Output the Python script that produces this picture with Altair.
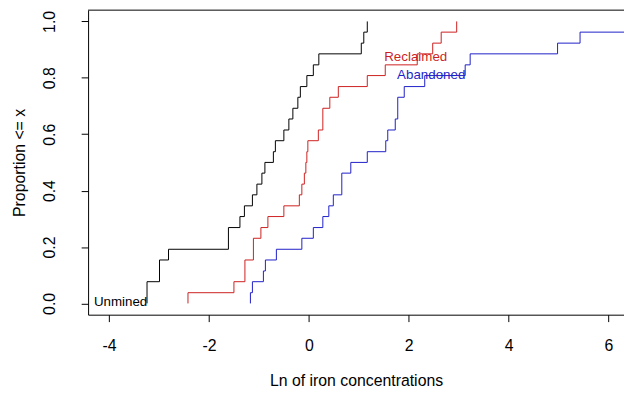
import altair as alt
import pandas as pd

# ECDF steps: ln(iron) value and cumulative proportion after the jump
unmined_x = [-3.24, -2.99, -2.81, -1.61, -1.38, -1.29, -1.13, -1.04, -0.94, -0.88, -0.71, -0.67,
             -0.50, -0.40, -0.32, -0.22, -0.17, -0.04, 0.09, 0.20, 1.05, 1.10, 1.17]
unmined_p = [0.077, 0.154, 0.192, 0.269, 0.308, 0.346, 0.385, 0.423, 0.462, 0.500, 0.538, 0.577,
             0.615, 0.654, 0.692, 0.731, 0.769, 0.808, 0.846, 0.885, 0.923, 0.962, 1.000]

reclaimed_x = [-2.42, -1.50, -1.28, -1.11, -0.96, -0.82, -0.50, -0.19, -0.14, -0.09, -0.06, -0.04,
               -0.02, 0.19, 0.28, 0.42, 0.59, 1.17, 1.53, 2.17, 2.48, 2.65, 2.96]
reclaimed_p = [0.038, 0.077, 0.154, 0.231, 0.269, 0.308, 0.346, 0.385, 0.423, 0.462, 0.500, 0.538,
               0.577, 0.615, 0.692, 0.731, 0.769, 0.808, 0.846, 0.885, 0.923, 0.962, 1.000]

abandoned_x = [-1.17, -1.13, -0.91, -0.87, -0.65, -0.14, 0.09, 0.28, 0.40, 0.49, 0.66, 0.84,
               1.17, 1.54, 1.58, 1.73, 1.78, 1.91, 2.32, 3.13, 3.23, 4.98, 5.43, 6.60]
abandoned_p = [0.038, 0.077, 0.115, 0.154, 0.192, 0.231, 0.269, 0.308, 0.346, 0.385, 0.462, 0.500,
               0.538, 0.577, 0.615, 0.654, 0.731, 0.769, 0.808, 0.846, 0.885, 0.923, 0.962, 1.000]

groups = ["Unmined", "Reclaimed", "Abandoned"]
colors = ["#000000", "#CD1F1F", "#1F1FC8"]

label_text = ["Unmined", "Reclaimed", "Abandoned"]
label_x = [-3.77, 2.14, 2.45]
label_y = [0.006, 0.872, 0.81]

x_ticks = [-4, -2, 0, 2, 4, 6]
y_ticks = [0.0, 0.2, 0.4, 0.6, 0.8, 1.0]

rows = []
for g, xs, ps in [("Unmined", unmined_x, unmined_p),
                  ("Reclaimed", reclaimed_x, reclaimed_p),
                  ("Abandoned", abandoned_x, abandoned_p)]:
    rows.append({"group": g, "x": xs[0], "p": 0.0, "i": 0})
    for k, (xv, pv) in enumerate(zip(xs, ps)):
        rows.append({"group": g, "x": xv, "p": pv, "i": k + 1})
df = pd.DataFrame(rows)

labels = pd.DataFrame({"group": groups, "text": label_text, "x": label_x, "p": label_y})

W, H = 542, 308
xscale = alt.Scale(domain=[-4.42, 6.31], nice=False, zero=False)
yscale = alt.Scale(domain=[-0.04, 1.04], nice=False, zero=False)
cscale = alt.Scale(domain=groups, range=colors)

lines = alt.Chart(df).mark_line(interpolate="step-after", strokeWidth=1, clip=True).encode(
    x=alt.X("x:Q", scale=xscale,
            axis=alt.Axis(values=x_ticks, labelExpr="'' + datum.value",
                          title="Ln of iron concentrations",
                          titleX=W / 2, titleY=67, titleAlign="center", titleBaseline="middle",
                          labelBaseline="middle", labelPadding=24)),
    y=alt.Y("p:Q", scale=yscale,
            axis=alt.Axis(values=y_ticks, format=".1f", title="Proportion <= x",
                          titleX=-69, titleY=H / 2, titleAngle=270, titleAlign="center",
                          titleBaseline="middle", labelAngle=270, labelAlign="center",
                          labelBaseline="middle", labelPadding=32)),
    color=alt.Color("group:N", scale=cscale, legend=None),
    detail="group:N",
    order="i:Q",
)

texts = alt.Chart(labels).mark_text(fontSize=13.5, align="center", baseline="middle").encode(
    x=alt.X("x:Q", scale=xscale),
    y=alt.Y("p:Q", scale=yscale),
    text="text:N",
    color=alt.Color("group:N", scale=cscale, legend=None),
)

top = alt.Chart(pd.DataFrame({"a": [0]})).mark_rule(color="black", strokeWidth=1).encode(
    x=alt.value(0), x2=alt.value(W), y=alt.value(0)
)

chart = alt.layer(lines, texts, top).properties(
    width=W, height=H,
    autosize=alt.AutoSizeParams(type="none"),
    padding={"left": 81, "top": 0, "right": 0, "bottom": 74},
    background="white",
).configure_view(stroke=None).configure_axis(
    grid=False, domainColor="black", domainWidth=1, tickColor="black", tickSize=7, tickWidth=1,
    labelColor="black", titleColor="black", labelFont="Liberation Sans", titleFont="Liberation Sans",
    labelFontSize=16, titleFontSize=16, titleFontWeight="normal", labelOverlap=False,
).configure_text(font="Liberation Sans")

chart.save("out.html", embed_options={"renderer": "svg", "actions": False})
